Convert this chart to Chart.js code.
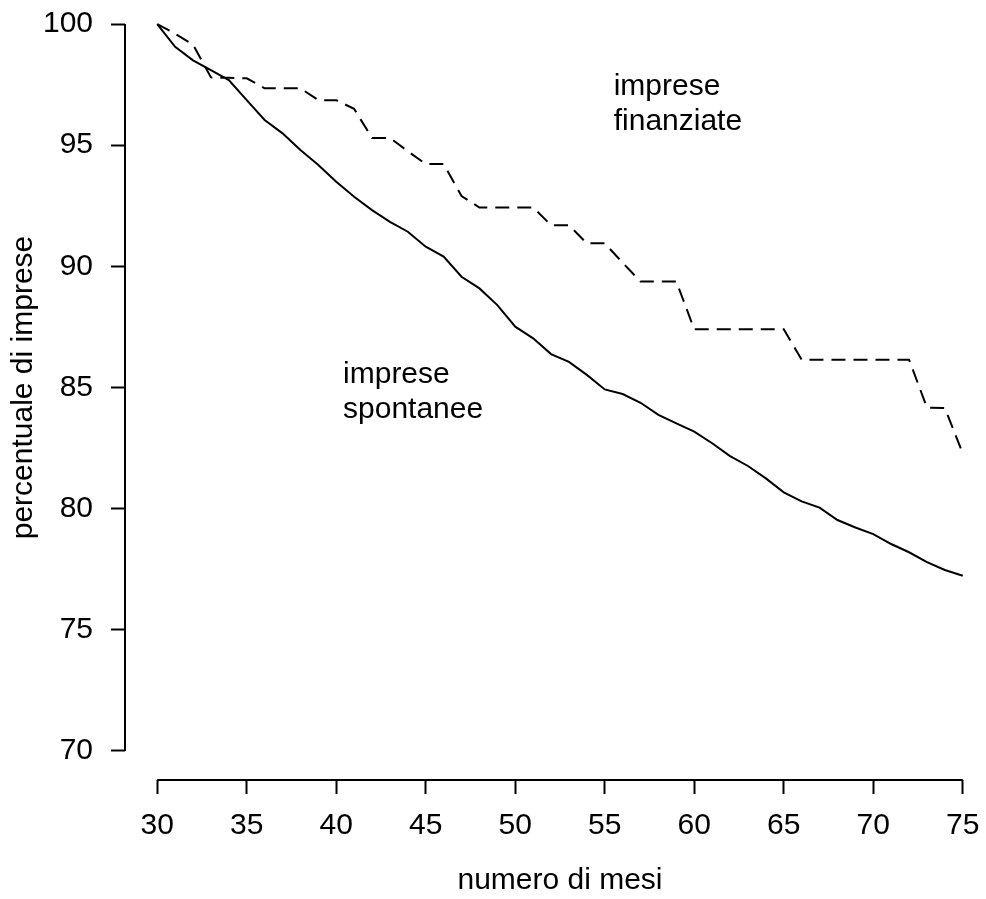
<!DOCTYPE html>
<html>
<head>
<meta charset="utf-8">
<script src="https://cdn.jsdelivr.net/npm/chart.js@4.4.1/dist/chart.umd.min.js"></script>
<style>
  html, body { margin: 0; padding: 0; background: #fff; overflow: hidden; }
  #chart { position: absolute; left: 0; top: -5px; }
</style>
</head>
<body>
<canvas id="chart" width="995" height="904"></canvas>
<script>
// dati (percentuale di imprese ancora attive)
const mesi = [30, 31, 32, 33, 34, 35, 36, 37, 38, 39, 40, 41, 42, 43, 44, 45,
  46, 47, 48, 49, 50, 51, 52, 53, 54, 55, 56, 57, 58, 59, 60, 61, 62, 63, 64,
  65, 66, 67, 68, 69, 70, 71, 72, 73, 74, 75];

const spontanee = [100, 99.06, 98.5, 98.1, 97.69, 96.86, 96.04, 95.49, 94.8,
  94.18, 93.49, 92.87, 92.32, 91.84, 91.43, 90.81, 90.4, 89.57, 89.09, 88.4,
  87.51, 87.03, 86.38, 86.06, 85.52, 84.92, 84.73, 84.37, 83.87, 83.52, 83.18,
  82.7, 82.17, 81.76, 81.25, 80.67, 80.3, 80.04, 79.53, 79.22, 78.95, 78.54,
  78.2, 77.79, 77.47, 77.23];

const finanziate = [100, 99.6, 99.15, 97.8, 97.78, 97.76, 97.35, 97.35, 97.35,
  96.86, 96.86, 96.5, 95.3, 95.3, 94.75, 94.22, 94.22, 92.9, 92.43, 92.43,
  92.43, 92.43, 91.7, 91.7, 90.95, 90.95, 90.15, 89.37, 89.37, 89.37, 87.4,
  87.4, 87.4, 87.4, 87.4, 87.4, 86.15, 86.15, 86.15, 86.15, 86.15, 86.15,
  86.15, 84.17, 84.15, 82.28];

const xTicks = [30, 35, 40, 45, 50, 55, 60, 65, 70, 75];
const yTicks = [70, 75, 80, 85, 90, 95, 100];

const FONT = "'Liberation Sans', Arial, Helvetica, sans-serif";
Chart.defaults.font.family = FONT;
Chart.defaults.font.size = 30;
Chart.defaults.color = '#000';

// assi "staccati" come in R: la linea va dal primo all'ultimo tick
const axisLines = {
  id: 'axisLines',
  afterDraw(chart) {
    const {ctx, chartArea, scales: {x, y}} = chart;
    ctx.save();
    ctx.strokeStyle = '#000';
    ctx.lineWidth = 2;
    ctx.beginPath();
    ctx.moveTo(x.getPixelForValue(xTicks[0]), chartArea.bottom);
    ctx.lineTo(x.getPixelForValue(xTicks[xTicks.length - 1]), chartArea.bottom);
    ctx.moveTo(chartArea.left, y.getPixelForValue(yTicks[0]));
    ctx.lineTo(chartArea.left, y.getPixelForValue(yTicks[yTicks.length - 1]));
    ctx.stroke();
    ctx.restore();
  }
};

// etichette delle due curve dentro il grafico
const notes = [
  {lines: ['imprese', 'finanziate'], x: 55.5, y: 97.07},
  {lines: ['imprese', 'spontanee'], x: 40.38, y: 85.18}
];

const curveLabels = {
  id: 'curveLabels',
  afterDraw(chart) {
    const {ctx, scales: {x, y}} = chart;
    ctx.save();
    ctx.fillStyle = '#000';
    ctx.font = '30px ' + FONT;
    ctx.textAlign = 'left';
    ctx.textBaseline = 'alphabetic';
    notes.forEach(n => {
      const px = x.getPixelForValue(n.x);
      const py = y.getPixelForValue(n.y);
      n.lines.forEach((t, i) => ctx.fillText(t, px, py + i * 35));
    });
    ctx.restore();
  }
};

const toPoints = vals => mesi.map((m, i) => ({x: m, y: vals[i]}));

new Chart(document.getElementById('chart'), {
  type: 'line',
  data: {
    datasets: [
      {
        label: 'imprese spontanee',
        data: toPoints(spontanee),
        borderColor: '#000',
        borderWidth: 2,
        pointRadius: 0,
        tension: 0
      },
      {
        label: 'imprese finanziate',
        data: toPoints(finanziate),
        borderColor: '#000',
        borderWidth: 2,
        borderDash: [14, 8],
        pointRadius: 0,
        tension: 0
      }
    ]
  },
  options: {
    responsive: false,
    animation: false,
    layout: {padding: 0},
    plugins: {
      legend: {display: false},
      tooltip: {enabled: false}
    },
    scales: {
      x: {
        type: 'linear',
        min: 28.2,
        max: 76.8,
        afterBuildTicks: s => { s.ticks = xTicks.map(v => ({value: v})); },
        afterFit: s => {
          s.height = 119;
          s.paddingLeft = 0; s.paddingRight = 0;
          s.paddingTop = 0; s.paddingBottom = 0;
        },
        border: {display: false},
        grid: {drawOnChartArea: false, drawTicks: true, tickLength: 14, tickWidth: 2, color: '#000'},
        ticks: {padding: 14, maxRotation: 0, autoSkip: false, color: '#000'},
        title: {display: true, text: 'numero di mesi', color: '#000', padding: 0, font: {size: 30}}
      },
      y: {
        min: 68.8,
        max: 101.2,
        afterBuildTicks: s => { s.ticks = yTicks.map(v => ({value: v})); },
        afterFit: s => {
          s.width = 125;
          s.paddingLeft = 0; s.paddingRight = 0;
          s.paddingTop = 0; s.paddingBottom = 0;
        },
        border: {display: false},
        grid: {drawOnChartArea: false, drawTicks: true, tickLength: 14, tickWidth: 2, color: '#000'},
        ticks: {padding: 18, autoSkip: false, color: '#000'},
        title: {display: true, text: 'percentuale di imprese', color: '#000', padding: {top: 6, bottom: 0}, font: {size: 30}}
      }
    }
  },
  plugins: [axisLines, curveLabels]
});
</script>
</body>
</html>
